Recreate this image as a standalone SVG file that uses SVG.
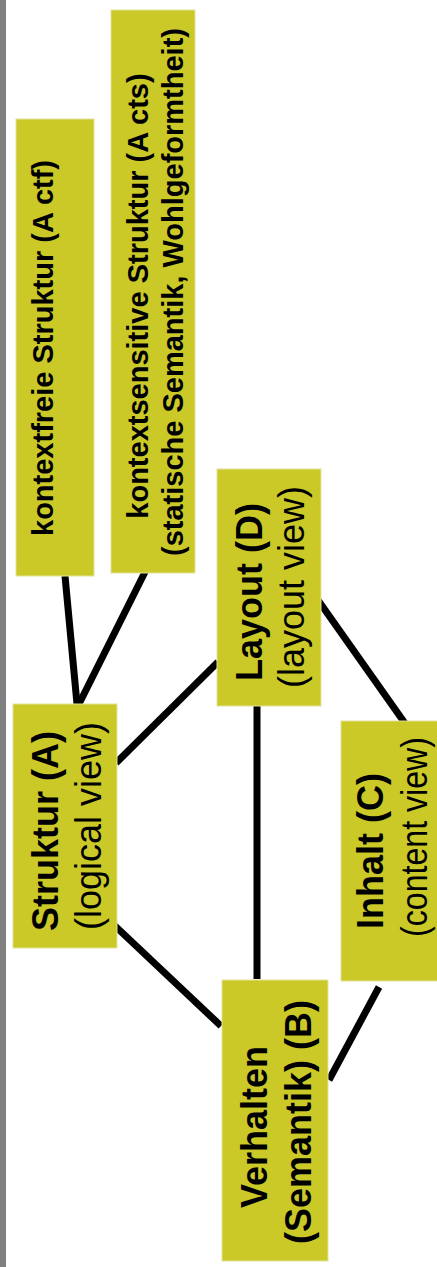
<svg xmlns="http://www.w3.org/2000/svg" width="437" height="1267" viewBox="0 0 437 1267">
  <style>
    .box { fill: #cac928; stroke: #e2e29c; stroke-width: 1; }
    .edge { stroke: #000; stroke-width: 7; fill: none; stroke-linecap: butt; }
    .t { font-family: "Liberation Sans", Arial, sans-serif; fill: #000; text-anchor: middle; }
    .b { font-weight: bold; }
    .big { font-size: 36px; }
    .small { font-size: 29px; }
  </style>
  <rect width="437" height="1267" fill="#fff"/>
  <!-- left page edge -->
  <rect x="0" y="0" width="6" height="1267" fill="#808080"/>

  <g id="connectors">
    <line class="edge" x1="65" y1="576" x2="77" y2="704"/>
    <line class="edge" x1="149" y1="564" x2="79" y2="704"/>
    <line class="edge" x1="116" y1="763" x2="218" y2="662"/>
    <line class="edge" x1="114" y1="925" x2="221" y2="1026"/>
    <line class="edge" x1="257" y1="698" x2="257" y2="979"/>
    <line class="edge" x1="313" y1="593" x2="409" y2="729"/>
    <line class="edge" x1="379" y1="987" x2="329" y2="1080"/>
  </g>

  <g id="node-ctf">
    <rect class="box" x="16" y="119" width="78" height="457"/>
    <text class="t b small" transform="translate(0 348) rotate(-90)" x="0" y="53">kontextfreie Struktur (A ctf)</text>
  </g>

  <g id="node-cts">
    <rect class="box" x="111" y="10" width="84" height="563"/>
    <text class="t b small" transform="translate(0 292) rotate(-90)">
      <tspan x="0" y="148">kontextsensitive Struktur (A cts)</tspan>
      <tspan x="0" y="183">(statische Semantik, Wohlgeformtheit)</tspan>
    </text>
  </g>

  <g id="node-struktur">
    <rect class="box" x="13" y="704" width="104" height="244"/>
    <text class="t big" transform="translate(0 826) rotate(-90)">
      <tspan class="b" x="0" y="58">Struktur (A)</tspan>
      <tspan x="0" y="101">(logical view)</tspan>
    </text>
  </g>

  <g id="node-layout">
    <rect class="box" x="217" y="469" width="104" height="237"/>
    <text class="t big" transform="translate(0 587) rotate(-90)">
      <tspan class="b" x="0" y="262">Layout (D)</tspan>
      <tspan x="0" y="304">(layout view)</tspan>
    </text>
  </g>

  <g id="node-inhalt">
    <rect class="box" x="341" y="721" width="100" height="260"/>
    <text class="t b big" transform="translate(0 851) rotate(-90)" x="0" y="383">Inhalt (C)</text>
    <text class="t big" transform="translate(0 837) rotate(-90)" x="0" y="427" textLength="200" lengthAdjust="spacingAndGlyphs">(content view)</text>
  </g>

  <g id="node-verhalten">
    <rect class="box" x="222" y="980" width="106" height="281"/>
    <text class="t b big" transform="translate(0 1122) rotate(-90)">
      <tspan x="0" y="267">Verhalten</tspan>
      <tspan x="0" y="311">(Semantik) (B)</tspan>
    </text>
  </g>
</svg>
